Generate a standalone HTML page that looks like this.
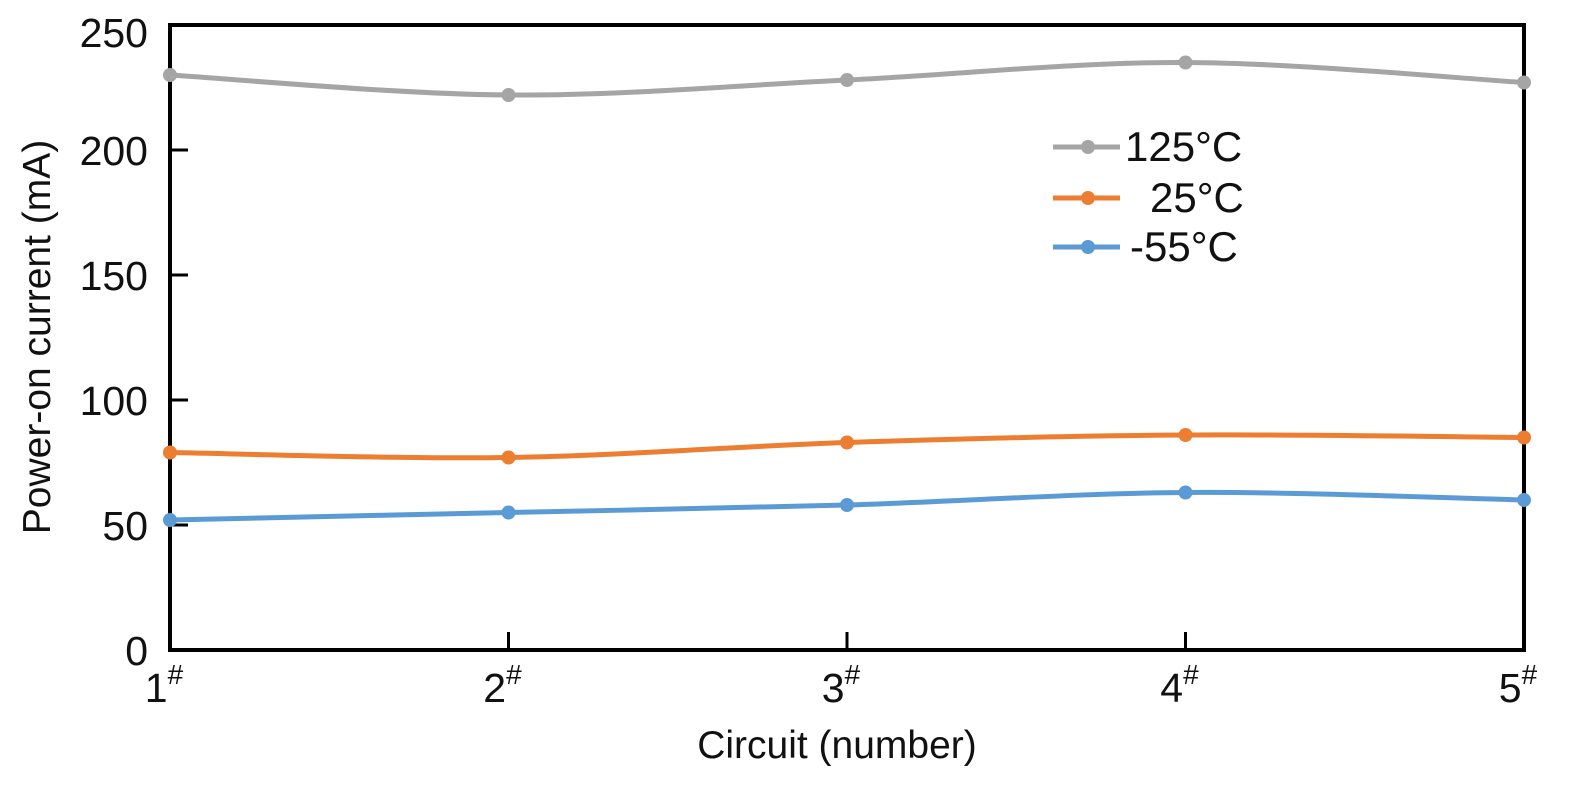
<!DOCTYPE html>
<html><head><meta charset="utf-8"><style>
body{margin:0;background:#fff;}
svg{display:block;font-family:"Liberation Sans","DejaVu Sans",sans-serif;}
</style></head><body>
<svg id="chart" width="1575" height="785">
<rect x="170" y="25" width="1354" height="625" fill="none" stroke="#000" stroke-width="4"/>
<g id="axes"></g>
<g id="series"></g>
<text x="50" y="337" transform="rotate(-90 50 337)" text-anchor="middle" font-size="39" fill="#111">Power-on current (mA)</text>
<text x="837" y="758" text-anchor="middle" font-size="39" fill="#111">Circuit (number)</text>
<g>
<g><line x1="1053" y1="147" x2="1120" y2="147" stroke="#a5a5a5" stroke-width="5"/><circle cx="1088" cy="147" r="7" fill="#a5a5a5"/><text x="1125" y="161" font-size="42" fill="#111">125°C</text></g>
<g><line x1="1053" y1="198" x2="1120" y2="198" stroke="#ed7d31" stroke-width="5"/><circle cx="1088" cy="198" r="7" fill="#ed7d31"/><text x="1150" y="212" font-size="42" fill="#111">25°C</text></g>
<g><line x1="1053" y1="247" x2="1120" y2="247" stroke="#5b9bd5" stroke-width="5"/><circle cx="1088" cy="247" r="7" fill="#5b9bd5"/><text x="1130" y="261" font-size="42" fill="#111">-55°C</text></g>
</g>
</svg>
<script>
const categories=["1","2","3","4","5"];
const yTicks=[0,50,100,150,200,250];
const s125=[230,222,228,235,227];
const s25=[79,77,83,86,85];
const sM55=[52,55,58,63,60];
const NS="http://www.w3.org/2000/svg";
const X0=170,X1=1524,Y0=650,Y1=25;
const xs=i=>X0+(X1-X0)*i/(categories.length-1);
const ys=v=>Y0-(Y0-Y1)*v/250;
const axes=document.getElementById('axes'),ser=document.getElementById('series');
function mk(t,a,p){const e=document.createElementNS(NS,t);for(const k in a)e.setAttribute(k,a[k]);p.appendChild(e);return e;}
yTicks.forEach(v=>{
  const l=mk('line',{x1:X0,x2:X0+18,y1:ys(v),y2:ys(v),stroke:'#000','stroke-width':3},axes);
  
  
  const t=mk('text',{x:148,y:ys(v)+(v===250?22:15),'text-anchor':'end','font-size':41,fill:'#111'},axes);
  t.textContent=v;
  
  
});
categories.forEach((c,i)=>{
  const l=mk('line',{x1:xs(i),x2:xs(i),y1:Y0,y2:Y0-18,stroke:'#000','stroke-width':3},axes);
  
  
  const t=mk('text',{x:xs(i)-6,y:702,'text-anchor':'middle','font-size':41,fill:'#111'},axes);
  t.innerHTML=c+'<tspan dy="-18" font-size="28">#</tspan>';
  
  
});
function draw(vals,col,name){
  const p=vals.map((v,i)=>[xs(i),ys(v)]);
  let d='M'+p[0][0]+','+p[0][1];
  for(let i=0;i<p.length-1;i++){
    const a=p[Math.max(i-1,0)],b=p[i],c=p[i+1],e=p[Math.min(i+2,p.length-1)];
    const k=1/6;
    d+=` C${b[0]+(c[0]-a[0])*k},${b[1]+(c[1]-a[1])*k} ${c[0]-(e[0]-b[0])*k},${c[1]-(e[1]-b[1])*k} ${c[0]},${c[1]}`;
  }
  const path=mk('path',{d:d,fill:'none',stroke:col,'stroke-width':5},ser);
  
  
  p.forEach(q=>{
    const c=mk('circle',{cx:q[0],cy:q[1],r:7,fill:col},ser);
    
    
  });
}
draw(s125,'#a5a5a5','series-125c');
draw(s25,'#ed7d31','series-25c');
draw(sM55,'#5b9bd5','series-minus55c');
</script>
</body></html>
